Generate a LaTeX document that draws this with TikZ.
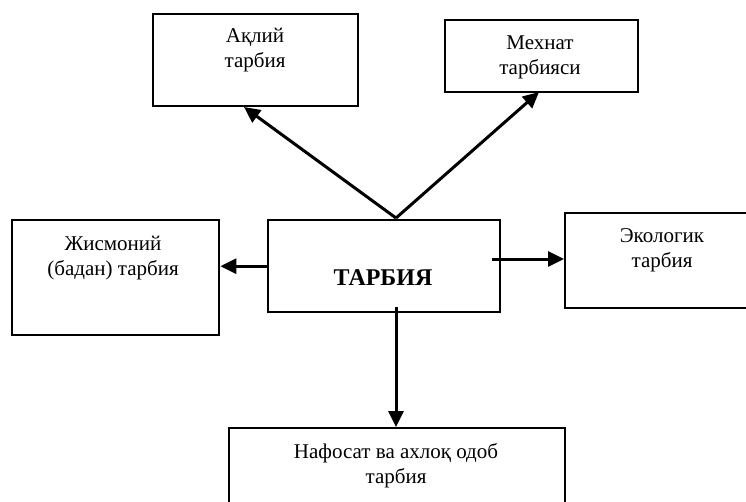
\documentclass[tikz,border=0pt]{standalone}
\usepackage{fontspec}
\setmainfont{Liberation Serif}
\usetikzlibrary{arrows.meta}
\begin{document}
\begin{tikzpicture}[x=1pt,y=-1pt,
  box/.style={draw,line width=2.4pt,inner sep=0pt,anchor=north west},
  lbl/.style={anchor=base,align=center,inner sep=0pt,font=\fontsize{21}{25}\selectfont},
  conn/.style={line width=3pt,-{Triangle[length=16pt,width=15pt]}}]
\clip (0,0) rectangle (746,501);
\fill[white] (0,0) rectangle (746,501);
% boxes
\node[box,minimum width=205pt,minimum height=92pt] (aqliy) at (152,13) {};
\node[box,minimum width=193pt,minimum height=72pt] (mehnat) at (444,19) {};
\node[box,minimum width=207pt,minimum height=115pt] (jismoniy) at (11,219) {};
\node[box,minimum width=232pt,minimum height=92pt] (tarbiya) at (267,219) {};
\node[box,minimum width=200pt,minimum height=95pt] (ekologik) at (564,212) {};
\node[box,minimum width=336pt,minimum height=80pt] (nafosat) at (228,427) {};
% texts
\node[lbl] (t1) at (255,67) {Ақлий\\тарбия};
\node[lbl] (t2) at (540,74) {Мехнат\\тарбияси};
\node[lbl] (t3) at (113,275) {Жисмоний\\(бадан) тарбия};
\node[lbl] (t5) at (662,267) {Экологик\\тарбия};
\node[lbl] (t6) at (396,483) {Нафосат ва ахлоқ одоб\\тарбия};
\node[anchor=base,inner sep=0pt,font=\fontsize{24}{28}\selectfont\bfseries] (t4) at (383,285) {ТАРБИЯ};
% connector points
\coordinate (apex) at (396,218);
\coordinate (aqtip) at (244,107);
\coordinate (metip) at (539,92);
\coordinate (rstart) at (492,259);
\coordinate (dstart) at (396,307);
% connectors
\draw[conn] (apex) -- (aqtip);
\draw[conn] (apex) -- (metip);
\draw[conn] (tarbiya.west) -- (tarbiya.west -| jismoniy.east);
\draw[conn] (rstart) -- (rstart -| ekologik.west);
\draw[conn] (dstart) -- (dstart |- nafosat.north);
\end{tikzpicture}
\end{document}
